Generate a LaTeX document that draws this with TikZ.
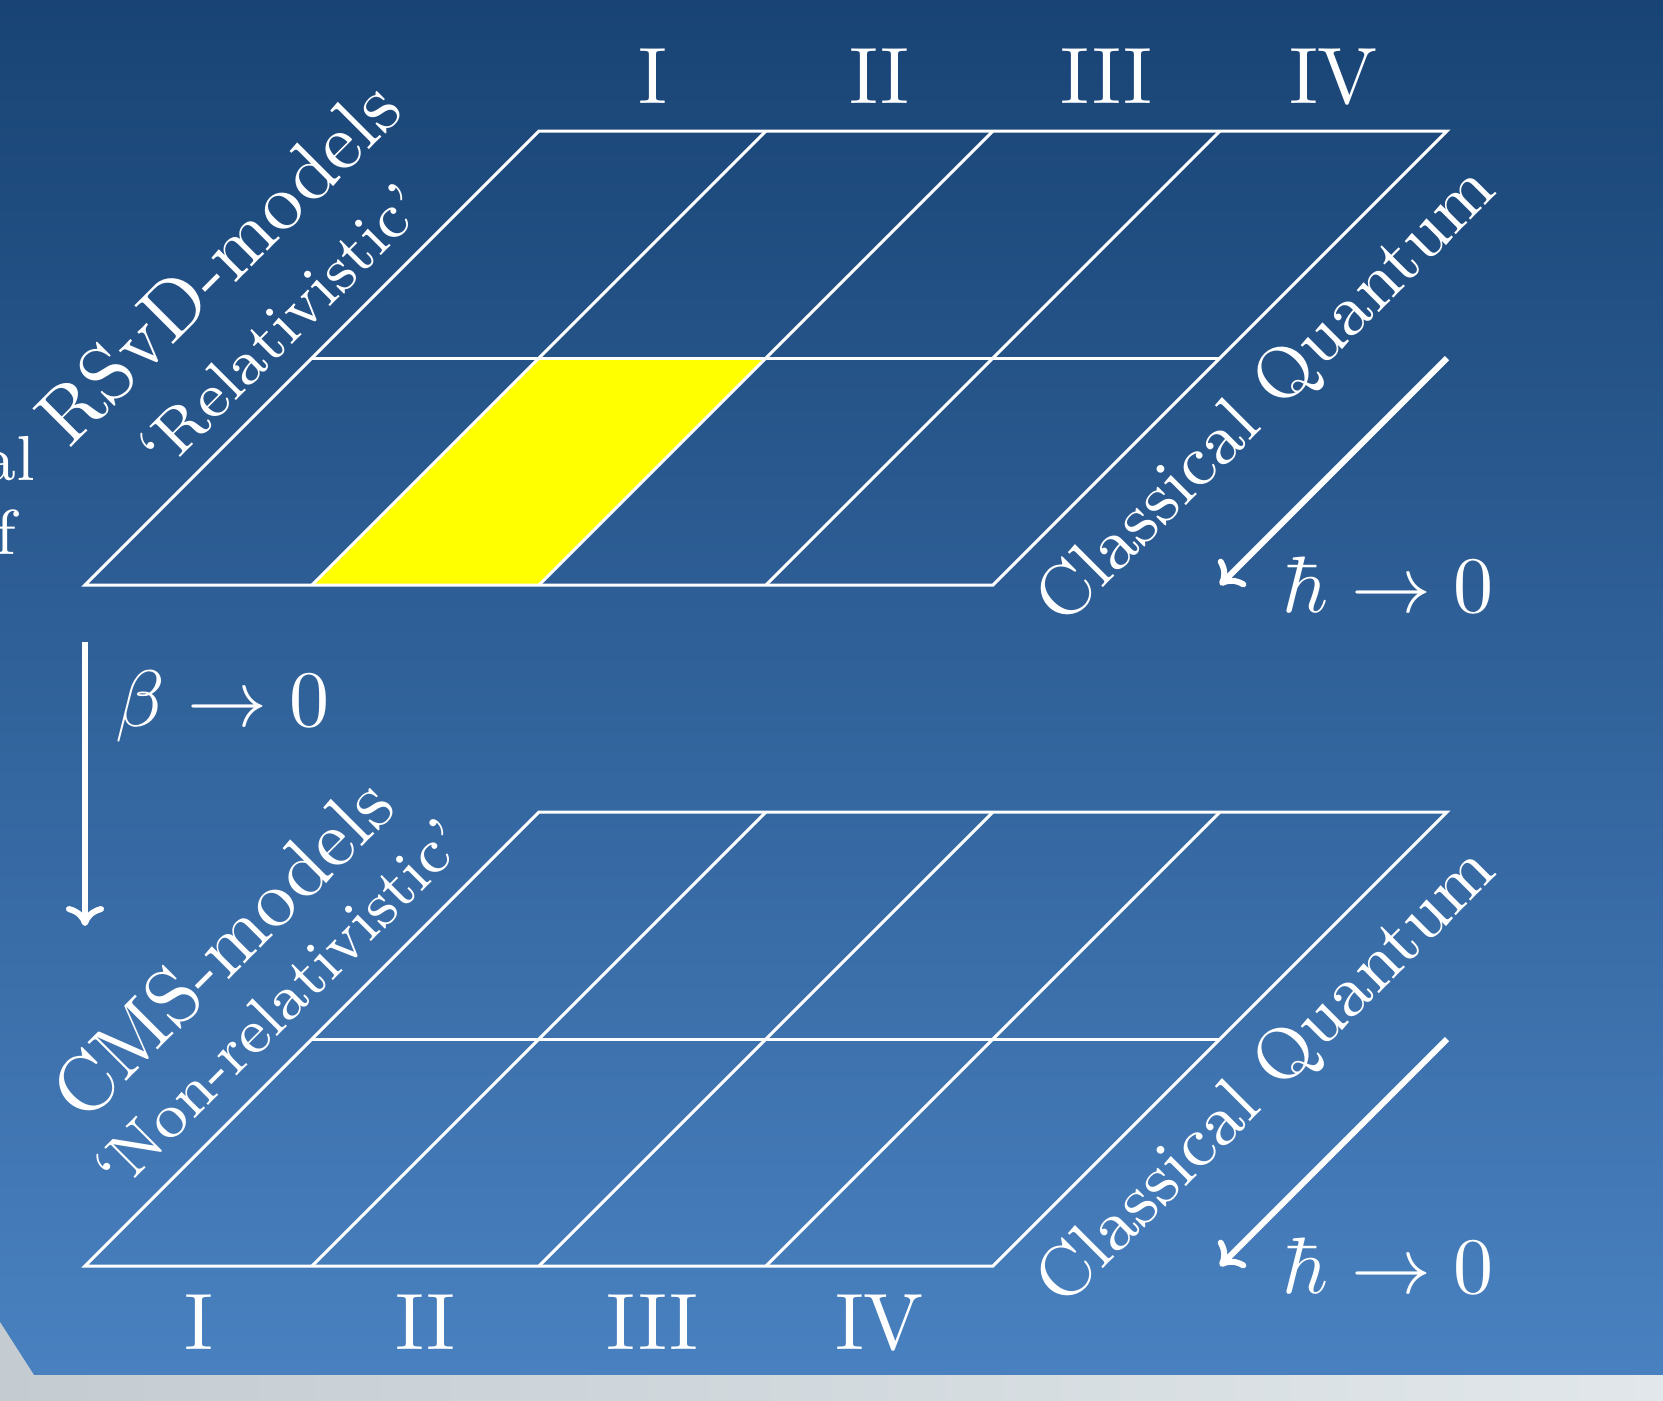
\documentclass[tikz,border=0pt]{standalone}
\usetikzlibrary{arrows.meta}
\definecolor{bgtop}{RGB}{24,67,116}
\definecolor{bgbot}{RGB}{73,129,192}
\definecolor{grayL}{RGB}{196,204,210}
\definecolor{grayR}{RGB}{225,231,234}
\definecolor{hilite}{RGB}{255,255,0}
\begin{document}
\begin{tikzpicture}[x=0.125pt,y=-0.125pt,
  gridline/.style={white,line width=0.38pt},
  bigarrow/.style={white,line width=0.75pt,-{Computer Modern Rightarrow[length=2.5pt,width=4.75pt]}},
  bigtext/.style={white,inner sep=0pt,font=\fontsize{10}{12}\selectfont},
  midtext/.style={white,inner sep=0pt,font=\fontsize{9.05}{11}\selectfont},
  smalltext/.style={white,inner sep=0pt,font=\fontsize{7.95}{9.5}\selectfont}]
\useasboundingbox (0,0) rectangle (1663,1400);
% background
\shade[top color=bgtop,bottom color=bgbot] (0,0) rectangle (1663,1375);
\shade[left color=grayL,right color=grayR] (0,1375) rectangle (1663,1400);
\fill[grayL] (0,1322) -- (34,1375) -- (0,1375) -- cycle;
% highlighted cell
\fill[hilite] (312,585) -- (539,585) -- (766,358) -- (539,358) -- cycle;
% grids
\foreach \o in {0,681} {
  \draw[gridline] (85,585+\o) -- (993,585+\o) -- (1447,131+\o) -- (539,131+\o) -- cycle;
  \draw[gridline] (312,358+\o) -- (1220,358+\o);
  \foreach \i in {1,2,3} \draw[gridline] (85+227*\i,585+\o) -- (539+227*\i,131+\o);
}
% column labels
\node[bigtext,anchor=base] (t1) at (652.5,103) {I};
\node[bigtext,anchor=base] (t2) at (879.5,103) {II};
\node[bigtext,anchor=base] (t3) at (1106.5,103) {III};
\node[bigtext,anchor=base] (t4) at (1333.5,103) {IV};
\node[bigtext,anchor=base] (b1) at (198.5,1349) {I};
\node[bigtext,anchor=base] (b2) at (425.5,1349) {II};
\node[bigtext,anchor=base] (b3) at (652.5,1349) {III};
\node[bigtext,anchor=base] (b4) at (879.5,1349) {IV};
% cut-off text at left
\node[smalltext,anchor=base east] (cutA) at (37,480) {al};
\node[smalltext,anchor=base east] (cutB) at (18,554) {f};
% model labels
\node[bigtext,rotate=45] (rsvd) at (218,262) {RSvD-models};
\node[smalltext,rotate=45] (rel) at (281,326) {‘Relativistic’};
\node[bigtext,rotate=45] (cms) at (222,948) {CMS-models};
\node[smalltext,rotate=45] (nonrel) at (279,1004) {‘Non-relativistic’};
\node[midtext,rotate=45] (cq1) at (1268,397) {Classical Quantum};
\node[midtext,rotate=45] (cq2) at (1268,1078) {Classical Quantum};
% limits
\coordinate (bA) at (85,642);
\coordinate (bB) at (85,926);
\draw[bigarrow] (bA) -- (bB);
\node[bigtext,anchor=base west] (beta) at (114,726) {$\beta\to0$};
\coordinate (hA1) at (1447,358);
\coordinate (hB1) at (1220,585);
\draw[bigarrow] (hA1) -- (hB1);
\node[bigtext,anchor=base east] (hbar1) at (1495,612) {$\hbar\to0$};
\coordinate (hA2) at (1447,1039);
\coordinate (hB2) at (1220,1266);
\draw[bigarrow] (hA2) -- (hB2);
\node[bigtext,anchor=base east] (hbar2) at (1495,1293) {$\hbar\to0$};
\end{tikzpicture}
\end{document}
